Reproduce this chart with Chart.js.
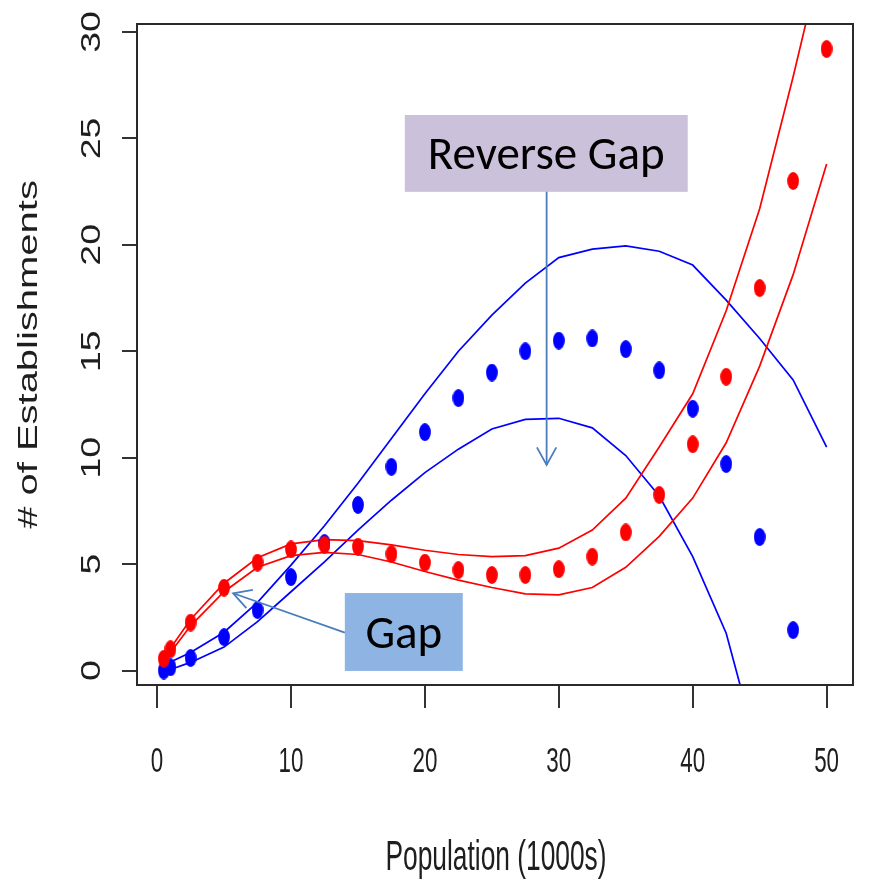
<!DOCTYPE html>
<html><head><meta charset="utf-8">
<script src="https://cdn.jsdelivr.net/npm/chart.js@4.4.1/dist/chart.umd.min.js"></script>
<style>html,body{margin:0;padding:0;background:#fff;}canvas{display:block;}</style>
</head><body>
<canvas id="c" width="876" height="880" style="width:876px;height:880px"></canvas>
<script>
// ---- data ----
const populationX = [0.5,1,2.5,5,7.5,10,12.5,15,17.5,20,22.5,25,27.5,30,32.5,35,37.5,40,42.5,45,47.5,50];
const redPoints   = [0.55,1.0,2.25,3.89,5.07,5.69,5.9,5.82,5.47,5.07,4.72,4.49,4.49,4.76,5.35,6.49,8.25,10.63,13.8,17.97,23.0,29.2];
const blueX       = [0.5,1,2.5,5,7.5,10,12.5,15,17.5,20,22.5,25,27.5,30,32.5,35,37.5,40,42.5,45,47.5];
const bluePoints  = [0.0,0.15,0.59,1.57,2.84,4.39,5.99,7.78,9.57,11.2,12.8,14.0,15.0,15.5,15.6,15.1,14.1,12.3,9.7,6.27,1.9];
const redUpper    = [0.65,1.05,2.4,4.1,5.3,5.95,6.15,6.1,5.9,5.65,5.45,5.35,5.4,5.75,6.6,8.1,10.5,13.0,16.9,21.7,27.9,34.5];
const redLower    = [0.4,0.85,2.1,3.7,4.85,5.4,5.55,5.45,5.1,4.65,4.25,3.9,3.6,3.55,3.9,4.85,6.3,8.1,10.7,14.3,18.6,23.8];
const blueUpper   = [0.2,0.4,0.85,1.8,3.2,4.95,6.8,8.8,10.9,13.0,15.0,16.7,18.2,19.4,19.8,19.95,19.7,19.05,17.4,15.6,13.65,10.5];
const blueLower   = [-0.1,0.05,0.38,1.1,2.3,3.7,5.1,6.6,8.0,9.3,10.4,11.35,11.8,11.85,11.4,10.1,8.2,5.35,1.75,-4.1,-11,-19];
const xTickValues = [0,10,20,30,40,50];
const xTickLabels = ['0','10','20','30','40','50'];
const yTickValues = [0,5,10,15,20,25,30];
const yTickLabels = ['0','5','10','15','20','25','30'];
const xTitle = 'Population (1000s)';
const yTitle = '# of Establishments';
const noteLabels = ['Reverse Gap','Gap'];

// ---- annotation geometry (data units) ----
const notes = [
  {text: noteLabels[0], x0: 18.5, x1: 39.63, y0: 22.49, y1: 26.1, fill: '#CCC1DA',
   from: [29.09, 22.49], to: [29.09, 9.66]},
  {text: noteLabels[1], x0: 14.02, x1: 22.83, y0: -0.02, y1: 3.64, fill: '#8EB4E3',
   from: [14.02, 1.78], to: [5.68, 3.63]}
];

const zip = (xs, ys) => xs.map((x, i) => ({x, y: ys[i]}));

function ellipseImg(color) {
  const c = document.createElement('canvas');
  c.width = 12; c.height = 18;
  const g = c.getContext('2d');
  g.fillStyle = color;
  g.beginPath();
  g.ellipse(6, 9, 5.9, 8.9, 0, 0, Math.PI * 2);
  g.fill();
  return c;
}
const redDot = ellipseImg('#ff0000');
const blueDot = ellipseImg('#0000ff');

const lineDs = (label, xs, ys, color) => ({
  label, data: zip(xs, ys), showLine: true, borderColor: color, backgroundColor: color,
  borderWidth: 1.7, pointRadius: 0, pointHoverRadius: 0, tension: 0, fill: false
});
const dotDs = (label, xs, ys, img, color) => ({
  label, data: zip(xs, ys), showLine: false, pointStyle: img, pointRadius: 6,
  borderColor: color, backgroundColor: color
});

const AXFONT = '"Liberation Sans", Arial, sans-serif';

const framePlugin = {
  id: 'frame',
  afterDatasetsDraw(chart) {
    const {ctx, chartArea: a, scales: {x, y}} = chart;
    ctx.save();
    ctx.strokeStyle = '#2a2a2a';
    ctx.lineWidth = 2;
    ctx.strokeRect(a.left, a.top, a.right - a.left, a.bottom - a.top);
    notes.forEach(n => {
      const L = x.getPixelForValue(n.x0), R = x.getPixelForValue(n.x1);
      const T = y.getPixelForValue(n.y1), B = y.getPixelForValue(n.y0);
      ctx.fillStyle = n.fill;
      ctx.fillRect(L, T, R - L, B - T);
      ctx.fillStyle = '#000';
      ctx.font = '47px Carlito, "Open Sans", sans-serif';
      ctx.textAlign = 'center';
      ctx.textBaseline = 'alphabetic';
      ctx.fillText(n.text, (L + R) / 2, (T + B) / 2 + 16);
      const fx = x.getPixelForValue(n.from[0]), fy = y.getPixelForValue(n.from[1]);
      const tx = x.getPixelForValue(n.to[0]), ty = y.getPixelForValue(n.to[1]);
      ctx.strokeStyle = '#4A7EBB';
      ctx.lineWidth = 1.8;
      ctx.beginPath(); ctx.moveTo(fx, fy); ctx.lineTo(tx, ty); ctx.stroke();
      const ang = Math.atan2(fy - ty, fx - tx), hl = 20, ha = 29 * Math.PI / 180;
      ctx.beginPath();
      ctx.moveTo(tx + hl * Math.cos(ang + ha), ty + hl * Math.sin(ang + ha));
      ctx.lineTo(tx, ty);
      ctx.lineTo(tx + hl * Math.cos(ang - ha), ty + hl * Math.sin(ang - ha));
      ctx.stroke();
    });
    ctx.restore();
  },
  afterDraw(chart) {
    const {ctx, chartArea: a, scales: {x, y}} = chart;
    ctx.save();
    ctx.fillStyle = '#1e1e1e';
    ctx.textAlign = 'center';
    ctx.textBaseline = 'alphabetic';
    ctx.font = '35px ' + AXFONT;
    xTickValues.forEach((v, i) => {
      ctx.save();
      ctx.translate(x.getPixelForValue(v), 772);
      ctx.scale(0.64, 1);
      ctx.fillText(xTickLabels[i], 0, 0);
      ctx.restore();
    });
    ctx.font = '28px ' + AXFONT;
    yTickValues.forEach((v, i) => {
      ctx.save();
      ctx.translate(100, y.getPixelForValue(v));
      ctx.rotate(-Math.PI / 2);
      ctx.scale(1.34, 1);
      ctx.fillText(yTickLabels[i], 0, 0);
      ctx.restore();
    });
    ctx.font = '42px ' + AXFONT;
    ctx.save();
    ctx.translate(496, 870);
    ctx.scale(0.627, 1);
    ctx.fillText(xTitle, 0, 0);
    ctx.restore();
    ctx.font = '27px ' + AXFONT;
    ctx.save();
    ctx.translate(37, (a.top + a.bottom) / 2);
    ctx.rotate(-Math.PI / 2);
    ctx.scale(1.48, 1);
    ctx.fillText(yTitle, 0, 0);
    ctx.restore();
    ctx.restore();
  }
};

new Chart(document.getElementById('c'), {
  type: 'scatter',
  data: {
    datasets: [
      dotDs('Red observed', populationX, redPoints, redDot, '#ff0000'),
      dotDs('Blue observed', blueX, bluePoints, blueDot, '#0000ff'),
      lineDs('Red upper', populationX, redUpper, '#ff0000'),
      lineDs('Red lower', populationX, redLower, '#ff0000'),
      lineDs('Blue upper', populationX, blueUpper, '#0000ff'),
      lineDs('Blue lower', populationX, blueLower, '#0000ff')
    ]
  },
  options: {
    responsive: false,
    animation: false,
    devicePixelRatio: 1,
    layout: {padding: {left: 0, top: 24, right: 23, bottom: 0}},
    plugins: {legend: {display: false}, tooltip: {enabled: false}},
    scales: {
      x: {
        type: 'linear', min: -1.5, max: 51.97,
        border: {display: false},
        grid: {drawOnChartArea: false, drawTicks: true, tickLength: 23, color: '#333', lineWidth: 2},
        ticks: {display: false, stepSize: 10, includeBounds: false},
        afterBuildTicks: s => { s.ticks = xTickValues.map(v => ({value: v})); },
        afterFit: s => { s.height = 195; s.paddingLeft = 0; s.paddingRight = 0; }
      },
      y: {
        type: 'linear', min: -0.681, max: 30.376,
        border: {display: false},
        grid: {drawOnChartArea: false, drawTicks: true, tickLength: 15, color: '#333', lineWidth: 2},
        ticks: {display: false, stepSize: 5, includeBounds: false, autoSkip: false},
        afterBuildTicks: s => { s.ticks = yTickValues.map(v => ({value: v})); },
        afterFit: s => { s.width = 137; s.paddingTop = 0; s.paddingBottom = 0; }
      }
    }
  },
  plugins: [framePlugin]
});
</script>
</body></html>
